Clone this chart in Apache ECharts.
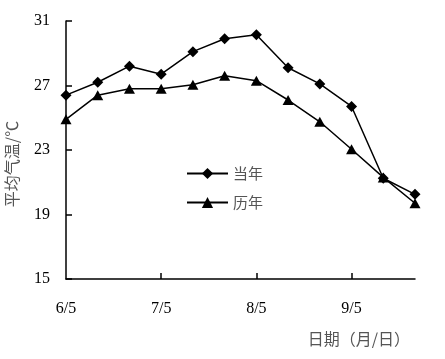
<!DOCTYPE html>
<html>
<head>
<meta charset="utf-8">
<script src="https://cdn.jsdelivr.net/npm/echarts@6/dist/echarts.min.js"></script>
<style>
html,body{margin:0;padding:0;background:#fff;}
#chart{width:445px;height:359px;}
</style>
</head>
<body>
<div id="chart"></div>
<script>
var categories = ['6/5','6/15','6/25','7/5','7/15','7/25','8/5','8/15','8/25','9/5','9/15','9/25'];
var tickLabels = {0:'6/5',3:'7/5',6:'8/5',9:'9/5'};
var thisYear = [26.4, 27.2, 28.2, 27.7, 29.1, 29.9, 30.15, 28.1, 27.1, 25.7, 21.25, 20.25];
var pastYears = [24.9, 26.4, 26.8, 26.8, 27.05, 27.6, 27.3, 26.1, 24.75, 23.05, 21.3, 19.7];
var yTicks = {min: 15, max: 31, step: 4};

var chart = echarts.init(document.getElementById('chart'), null, {renderer: 'canvas'});
var serif = '"Liberation Serif", "DejaVu Serif", serif';
var cjk = '"Noto Sans CJK SC", sans-serif';
chart.setOption({
  animation: false,
  backgroundColor: '#ffffff',
  title: {
    text: '日期（月/日）',
    right: 30,
    bottom: 7,
    textStyle: {fontFamily: cjk, fontSize: 16, fontWeight: 'normal', color: '#555'}
  },
  grid: {left: 66, right: 30, top: 21, bottom: 80, containLabel: false, outerBoundsMode: 'none'},
  legend: {
    orient: 'vertical',
    left: 181,
    top: 161,
    itemWidth: 41,
    itemHeight: 14,
    itemGap: 14,
    textStyle: {fontFamily: cjk, fontSize: 15, color: '#555', lineHeight: 14},
    data: ['当年', '历年']
  },
  xAxis: {
    type: 'category',
    data: categories,
    boundaryGap: false,
    axisLine: {lineStyle: {color: '#000', width: 1.5}},
    axisTick: {
      inside: true, length: 6,
      lineStyle: {color: '#000', width: 1.5},
      interval: function (i) { return i === 3 || i === 6 || i === 9; }
    },
    axisLabel: {
      interval: function (i) { return tickLabels[i] !== undefined; },
      formatter: function (v, i) { return tickLabels[i] || ''; },
      fontFamily: serif, fontSize: 16, color: '#000', margin: 22
    },
    splitLine: {show: false}
  },
  yAxis: {
    type: 'value',
    min: yTicks.min, max: yTicks.max, interval: yTicks.step,
    name: '平均气温/℃',
    nameLocation: 'middle',
    nameGap: 46,
    nameTextStyle: {fontFamily: cjk, fontSize: 16, color: '#555', padding: [0, 0, 0, -28]},
    axisLine: {show: true, lineStyle: {color: '#000', width: 1.5}},
    axisTick: {show: true, inside: true, length: 6, lineStyle: {color: '#000', width: 1.5}},
    axisLabel: {fontFamily: serif, fontSize: 16, color: '#000', margin: 16},
    splitLine: {show: false}
  },
  series: [
    {
      name: '当年', type: 'line', data: thisYear,
      symbol: 'diamond', symbolSize: 11,
      lineStyle: {color: '#000', width: 1.5},
      itemStyle: {color: '#000'}
    },
    {
      name: '历年', type: 'line', data: pastYears,
      symbol: 'triangle', symbolSize: [11, 10],
      lineStyle: {color: '#000', width: 1.5},
      itemStyle: {color: '#000'}
    }
  ]
});
</script>
</body>
</html>
